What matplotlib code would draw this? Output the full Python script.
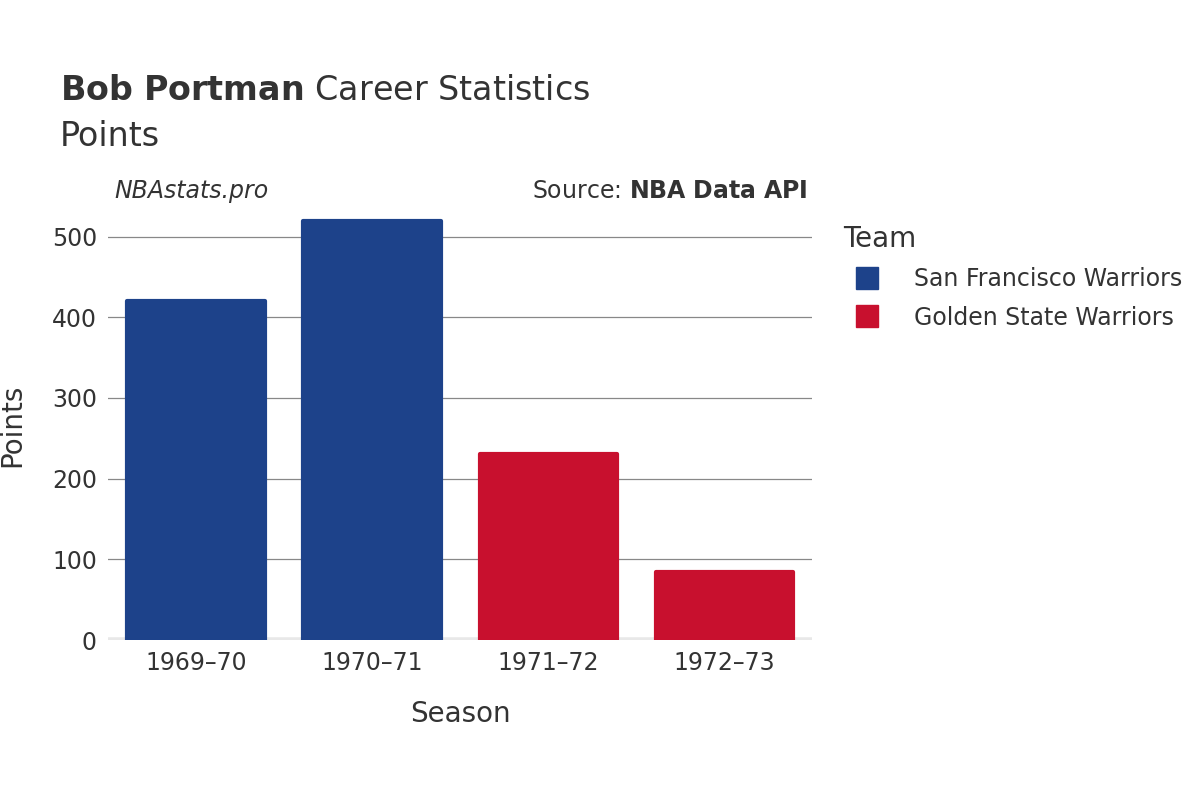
import matplotlib.pyplot as plt
from matplotlib.lines import Line2D

seasons = ['1969–70', '1970–71', '1971–72', '1972–73']
points = [420, 519, 231, 84]
teams = ['San Francisco Warriors', 'San Francisco Warriors', 'Golden State Warriors', 'Golden State Warriors']
team_names = ['San Francisco Warriors', 'Golden State Warriors']
team_colors = {'San Francisco Warriors': '#1d428a', 'Golden State Warriors': '#c8102e'}

fig = plt.figure(figsize=(12, 8), dpi=100)
ax = fig.add_axes([0.09, 0.2, 0.587, 0.5375])

x = range(len(seasons))
colors = [team_colors[t] for t in teams]
bars = ax.bar(x, points, width=0.78, color=colors, edgecolor=colors, linewidth=3, zorder=3)
for b in bars:
    b.set_joinstyle('round')

ax.set_xlim(-0.5, len(seasons) - 0.5)
ax.set_ylim(0, 533)
ax.set_yticks([0, 100, 200, 300, 400, 500])
ax.set_xticks(list(x))
ax.set_xticklabels(seasons)
ax.grid(axis='y', color='#888888', linewidth=0.9, zorder=0)
ax.axhline(0, color='#e8e8e8', linewidth=4, zorder=2)
for s in ax.spines.values():
    s.set_visible(False)
ax.tick_params(length=0, labelsize=17, labelcolor='#333333', pad=8)
ax.set_xlabel('Season', fontsize=20, color='#333333', labelpad=18)
ax.set_ylabel('Points', fontsize=20, color='#333333', labelpad=18)

fig.text(0.05, 0.875, r'$\bf{Bob\ Portman}$ Career Statistics', fontsize=24, color='#333333')
fig.text(0.05, 0.818, 'Points', fontsize=24, color='#333333')
fig.text(0.095, 0.752, 'NBAstats.pro', fontsize=17, style='italic', color='#333333')
fig.text(0.673, 0.752, r'Source: $\bf{NBA\ Data\ API}$', fontsize=17, color='#333333', ha='right')

handles = [Line2D([0], [0], marker='s', linestyle='', markersize=16, color=team_colors[t]) for t in team_names]
leg = fig.legend(handles, team_names, loc='upper left', bbox_to_anchor=(0.685, 0.745),
                 frameon=False, fontsize=17, title='Team', title_fontsize=20,
                 labelcolor='#333333', handletextpad=1.0, labelspacing=0.6)
leg.get_title().set_color('#333333')
leg._legend_box.align = 'left'

fig.savefig('out.png', dpi=100)
